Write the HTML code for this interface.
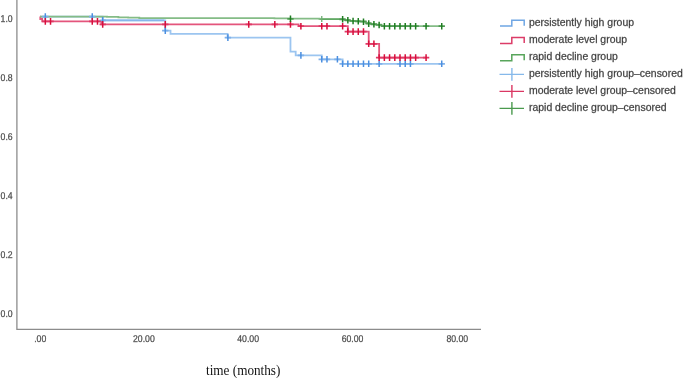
<!DOCTYPE html>
<html><head><meta charset="utf-8"><style>
html,body{margin:0;padding:0;background:#fff;width:685px;height:378px;overflow:hidden}
svg{display:block;will-change:transform}
.ax{font-family:"Liberation Sans",sans-serif;font-size:8.7px;text-rendering:geometricPrecision;fill:#2a2a2a;stroke:#777;stroke-width:0.25px}
.lg{font-family:"Liberation Sans",sans-serif;font-size:10.45px;fill:#2a2a2a;stroke:#666;stroke-width:0.3px}
.tl{font-family:"Liberation Serif",serif;font-size:13.2px;fill:#111}
</style></head><body>

<svg width="685" height="378" viewBox="0 0 685 378">
<path d="M16.9,0V329.4H481" fill="none" stroke="#8c8c8c" stroke-width="1.3"/>
<text transform="translate(12.7,21.9) scale(1,1.13)" text-anchor="end" class="ax">1.0</text>
<text transform="translate(12.7,80.9) scale(1,1.13)" text-anchor="end" class="ax">0.8</text>
<text transform="translate(12.7,139.9) scale(1,1.13)" text-anchor="end" class="ax">0.6</text>
<text transform="translate(12.7,198.9) scale(1,1.13)" text-anchor="end" class="ax">0.4</text>
<text transform="translate(12.7,257.9) scale(1,1.13)" text-anchor="end" class="ax">0.2</text>
<text transform="translate(12.7,316.9) scale(1,1.13)" text-anchor="end" class="ax">0.0</text>
<text transform="translate(40.2,342) scale(1,1.13)" text-anchor="middle" class="ax">.00</text>
<text transform="translate(143.9,342) scale(1,1.13)" text-anchor="middle" class="ax">20.00</text>
<text transform="translate(248.1,342) scale(1,1.13)" text-anchor="middle" class="ax">40.00</text>
<text transform="translate(352.5,342) scale(1,1.13)" text-anchor="middle" class="ax">60.00</text>
<text transform="translate(457.3,342) scale(1,1.13)" text-anchor="middle" class="ax">80.00</text>
<text transform="translate(243.2,374.6) scale(1,1.06)" text-anchor="middle" class="tl">time (months)</text>
<path d="M40.10,16.60H102.69V20.30H165.28V30.60H170.50V33.80H227.58V37.60H290.47V51.70H295.68V55.40H321.76V59.30H342.63V63.80H441.73" fill="none" stroke="#9cc5f0" stroke-width="1.8"/>
<path d="M40.10,16.60H40.30V19.00H42.20V21.40H101.39V24.40H298.60V26.20H347.84V31.60H368.71V43.80H379.14V57.60H426.08" fill="none" stroke="#e4557c" stroke-width="1.8"/>
<path d="M40.10,16.60H107.00V16.95H118.40V17.30H128.20V17.65H139.30V18.05H274.40V18.40H290.47V18.60H319.50V19.20H344.50V20.00H349.50V20.80H359.50V21.40H365.60V22.90H370.50V23.90H376.00V24.60H381.40V26.20H441.73" fill="none" stroke="#84bc86" stroke-width="1.8"/>
<path d="M103.59,20.3H164.38" fill="none" stroke="#86b6ec" stroke-width="1.8"/>
<path d="M320.40,19.2H341.73" fill="none" stroke="#5fa862" stroke-width="1.5"/>
<path d="M42.12,16.60H48.52M89.06,16.60H95.46M99.49,20.30H105.89M162.08,30.60H168.48M224.68,37.60H231.08M297.70,55.40H304.10M318.56,59.30H324.96M323.78,59.30H330.18M334.21,59.30H340.61M339.43,63.80H345.83M344.64,63.80H351.04M349.86,63.80H356.26M355.08,63.80H361.48M360.29,63.80H366.69M365.51,63.80H371.91M375.94,63.80H382.34M396.80,63.80H403.20M402.02,63.80H408.42M407.24,63.80H413.64M438.53,63.80H444.93" fill="none" stroke="#7fb1ea" stroke-width="1.7"/>
<path d="M45.32,13.30V19.90M92.26,13.30V19.90M102.69,17.00V23.60M165.28,27.30V33.90M227.88,34.30V40.90M300.90,52.10V58.70M321.76,56.00V62.60M326.98,56.00V62.60M337.41,56.00V62.60M342.63,60.50V67.10M347.84,60.50V67.10M353.06,60.50V67.10M358.28,60.50V67.10M363.49,60.50V67.10M368.71,60.50V67.10M379.14,60.50V67.10M400.00,60.50V67.10M405.22,60.50V67.10M410.44,60.50V67.10M441.73,60.50V67.10" fill="none" stroke="#4b8fe0" stroke-width="1.5"/>
<path d="M42.12,21.40H48.52M47.33,21.40H53.73M89.06,21.40H95.46M94.28,21.40H100.68M99.49,24.40H105.89M162.08,24.40H168.48M245.54,24.40H251.94M271.62,24.40H278.02M287.27,24.40H293.67M297.70,26.20H304.10M318.56,26.20H324.96M323.78,26.20H330.18M339.43,26.20H345.83M344.64,31.60H351.04M349.86,31.60H356.26M355.08,31.60H361.48M360.29,31.60H366.69M365.51,43.80H371.91M370.72,43.80H377.12M375.94,57.60H382.34M381.16,57.60H387.56M386.37,57.60H392.77M391.59,57.60H397.99M396.80,57.60H403.20M402.02,57.60H408.42M407.24,57.60H413.64M412.45,57.60H418.85M422.88,57.60H429.28" fill="none" stroke="#df3a66" stroke-width="1.7"/>
<path d="M45.32,18.10V24.70M50.53,18.10V24.70M92.26,18.10V24.70M97.48,18.10V24.70M102.69,21.10V27.70M165.28,21.10V27.70M248.74,21.10V27.70M274.82,21.10V27.70M290.47,21.10V27.70M300.90,22.90V29.50M321.76,22.90V29.50M326.98,22.90V29.50M342.63,22.90V29.50M347.84,28.30V34.90M353.06,28.30V34.90M358.28,28.30V34.90M363.49,28.30V34.90M368.71,40.50V47.10M373.92,40.50V47.10M379.14,54.30V60.90M384.36,54.30V60.90M389.57,54.30V60.90M394.79,54.30V60.90M400.00,54.30V60.90M405.22,54.30V60.90M410.44,54.30V60.90M415.65,54.30V60.90M426.08,54.30V60.90" fill="none" stroke="#d80f3c" stroke-width="1.5"/>
<path d="M287.27,18.80H293.67M339.43,19.30H345.83M344.64,20.30H351.04M349.86,21.00H356.26M355.08,21.30H361.48M360.29,21.70H366.69M365.51,23.60H371.91M370.72,24.30H377.12M375.94,25.00H382.34M381.16,26.20H387.56M386.37,26.20H392.77M391.59,26.20H397.99M396.80,26.20H403.20M402.02,26.20H408.42M407.24,26.20H413.64M412.45,26.20H418.85M422.88,26.20H429.28M438.53,26.20H444.93" fill="none" stroke="#4f9a52" stroke-width="1.7"/>
<path d="M290.47,15.50V22.10M342.63,16.00V22.60M347.84,17.00V23.60M353.06,17.70V24.30M358.28,18.00V24.60M363.49,18.40V25.00M368.71,20.30V26.90M373.92,21.00V27.60M379.14,21.70V28.30M384.36,22.90V29.50M389.57,22.90V29.50M394.79,22.90V29.50M400.00,22.90V29.50M405.22,22.90V29.50M410.44,22.90V29.50M415.65,22.90V29.50M426.08,22.90V29.50M441.73,22.90V29.50" fill="none" stroke="#1f7d22" stroke-width="1.5"/>
<path d="M321.76,15.9V22.1" fill="none" stroke="#6fae72" stroke-width="1.3"/>
<text x="529" y="25.8" class="lg">persistently high group</text>
<path d="M500,26.10H511.8V20.20H524.2V25.70" fill="none" stroke="#6fa6e4" stroke-width="1.5"/>
<text x="529" y="42.8" class="lg">moderate level group</text>
<path d="M500,43.40H511.8V37.50H524.2V43.00" fill="none" stroke="#dc3c68" stroke-width="1.5"/>
<text x="529" y="59.8" class="lg">rapid decline group</text>
<path d="M500,60.70H511.8V54.80H524.2V60.30" fill="none" stroke="#58a55b" stroke-width="1.5"/>
<text x="529" y="76.8" class="lg">persistently high group–censored</text>
<path d="M499.5,74.40H524M511.9,68.00V80.80" fill="none" stroke="#86b9ea" stroke-width="1.4"/>
<text x="529" y="93.8" class="lg">moderate level group–censored</text>
<path d="M499.5,91.40H524M511.9,85.00V97.80" fill="none" stroke="#da3763" stroke-width="1.4"/>
<text x="529" y="110.8" class="lg">rapid decline group–censored</text>
<path d="M499.5,108.40H524M511.9,102.00V114.80" fill="none" stroke="#4a9a4e" stroke-width="1.4"/>
</svg>
</body></html>
